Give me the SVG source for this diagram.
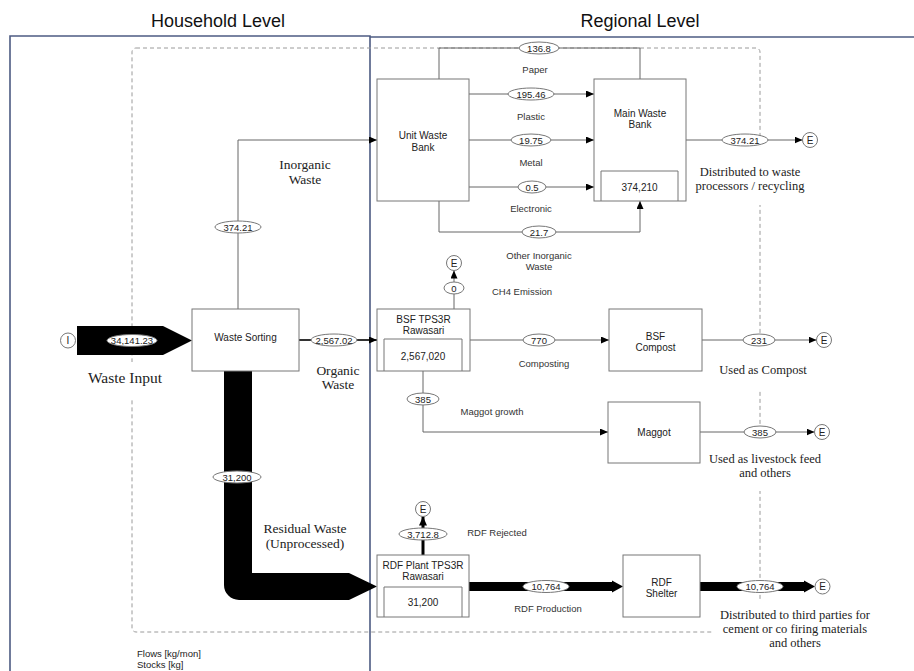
<svg xmlns="http://www.w3.org/2000/svg" width="914" height="671" viewBox="0 0 914 671">
<style>
.frame{fill:none;stroke:#4d5b82;stroke-width:1.6}
.dash{fill:none;stroke:#9a9a9a;stroke-width:1;stroke-dasharray:4 3}
.mask{fill:#fff;stroke:none}
.box{fill:#fff;stroke:#777;stroke-width:1}
.inner{fill:none;stroke:#777;stroke-width:1}
.ln{fill:none;stroke:#666;stroke-width:1}
.el{fill:#fff;stroke:#777;stroke-width:1}
.blk{fill:#000;stroke:none}
.t{font-family:"Liberation Sans",Arial,sans-serif;font-size:10px;fill:#222;text-anchor:middle}
.v{font-family:"Liberation Sans",Arial,sans-serif;font-size:9.5px;fill:#222;text-anchor:middle}
.lbl{font-family:"Liberation Sans",Arial,sans-serif;font-size:9.5px;fill:#333;text-anchor:middle}
.sr{font-family:"Liberation Serif","Times New Roman",serif;font-size:13.5px;fill:#222;text-anchor:middle}
.sr2{font-family:"Liberation Serif","Times New Roman",serif;font-size:12.5px;fill:#222;text-anchor:middle}
.hd{font-family:"Liberation Sans",Arial,sans-serif;font-size:18px;fill:#111;text-anchor:middle}
.leg{font-family:"Liberation Sans",Arial,sans-serif;font-size:9.5px;fill:#222}
</style>
<defs>
<marker id="ar" markerWidth="8" markerHeight="7" refX="8" refY="3.5" orient="auto" markerUnits="userSpaceOnUse"><path d="M0,0 L8,3.5 L0,7 Z" fill="#000"/></marker>
<marker id="arb" markerWidth="9" markerHeight="8" refX="9" refY="4" orient="auto" markerUnits="userSpaceOnUse"><path d="M0,0 L9,4 L0,8 Z" fill="#000"/></marker>
</defs>
<rect width="914" height="671" fill="#fff"/>

<g id="frames">
<text class="hd" x="218" y="27">Household Level</text>
<text class="hd" x="640" y="27">Regional Level</text>
<path class="frame" d="M10,680 V36 H370 V680"/>
<path class="frame" d="M370,37 H914"/>
<rect class="dash" x="132" y="48" width="628" height="584" rx="4"/>
<rect class="mask" x="688" y="147" width="125" height="58"/>
<rect class="mask" x="712" y="345" width="100" height="44"/>
<rect class="mask" x="704" y="439" width="122" height="52"/>
<rect class="mask" x="713" y="599" width="165" height="52"/>
<rect class="mask" x="84" y="362" width="84" height="36"/>
</g>

<g id="connectors">
<path class="ln" d="M238,309 V140 H377" marker-end="url(#ar)"/>
<path class="ln" d="M439,79 V48 H640 V79"/>
<path class="ln" d="M469,94 H594" marker-end="url(#ar)"/>
<path class="ln" d="M469,140 H594" marker-end="url(#ar)"/>
<path class="ln" d="M469,187 H594" marker-end="url(#ar)"/>
<path class="ln" d="M439,201 V232 H640 V201" marker-end="url(#ar)"/>
<path class="ln" d="M686,140 H802.5" marker-end="url(#ar)"/>
<path d="M299,340 H377" fill="none" stroke="#333" stroke-width="2" marker-end="url(#ar)"/>
<path class="ln" d="M454,309 V270.5" marker-end="url(#ar)"/>
<path class="ln" d="M470,340 H609" marker-end="url(#ar)"/>
<path class="ln" d="M702,340 H816.5" marker-end="url(#ar)"/>
<path class="ln" d="M423,371 V432 H608" marker-end="url(#ar)"/>
<path class="ln" d="M700,432 H814.5" marker-end="url(#ar)"/>
<path d="M423,555 V516.5" fill="none" stroke="#000" stroke-width="3" marker-end="url(#arb)"/>
<polygon class="blk" points="77,326 163,326 192,340.5 163,355 77,355"/>
<path class="blk" d="M224,371 L224,585 A15,15 0 0 0 239,600 L349,600 L377,586.5 L349,573 L252,573 L252,371 Z"/>
<polygon class="blk" points="469,582 612,582 612,580.5 623,586.5 612,592.5 612,591 469,591"/>
<polygon class="blk" points="700,582 804,582 804,580.5 815,586.5 804,592.5 804,591 700,591"/>

<ellipse class="el" cx="539" cy="48" rx="20" ry="6"/><text class="v" x="539" y="51.5">136.8</text>
<ellipse class="el" cx="531" cy="94" rx="23" ry="6"/><text class="v" x="531" y="97.5">195.46</text>
<ellipse class="el" cx="531" cy="140" rx="20" ry="6"/><text class="v" x="531" y="143.5">19.75</text>
<ellipse class="el" cx="532" cy="187" rx="14" ry="6"/><text class="v" x="532" y="190.5">0.5</text>
<ellipse class="el" cx="539" cy="232" rx="17" ry="6"/><text class="v" x="539" y="235.5">21.7</text>
<ellipse class="el" cx="745" cy="140" rx="23" ry="6"/><text class="v" x="745" y="143.5">374.21</text>
<ellipse class="el" cx="238" cy="227" rx="23" ry="6"/><text class="v" x="238" y="230.5">374.21</text>
<ellipse class="el" cx="132" cy="340.5" rx="25" ry="6"/><text class="v" x="132" y="344">34,141.23</text>
<ellipse class="el" cx="334" cy="340" rx="23" ry="6"/><text class="v" x="334" y="343.5">2,567.02</text>
<ellipse class="el" cx="454" cy="288" rx="10" ry="6"/><text class="v" x="454" y="291.5">0</text>
<ellipse class="el" cx="539" cy="340" rx="16" ry="6"/><text class="v" x="539" y="343.5">770</text>
<ellipse class="el" cx="759" cy="340" rx="16" ry="6"/><text class="v" x="759" y="343.5">231</text>
<ellipse class="el" cx="423" cy="399" rx="16" ry="6"/><text class="v" x="423" y="402.5">385</text>
<ellipse class="el" cx="760" cy="432" rx="16" ry="6"/><text class="v" x="760" y="435.5">385</text>
<ellipse class="el" cx="237" cy="477" rx="24" ry="6"/><text class="v" x="237" y="480.5">31,200</text>
<ellipse class="el" cx="423" cy="534" rx="24" ry="6"/><text class="v" x="423" y="537.5">3,712.8</text>
<ellipse class="el" cx="546" cy="586.5" rx="23" ry="6"/><text class="v" x="546" y="590">10,764</text>
<ellipse class="el" cx="760" cy="586.5" rx="23" ry="6"/><text class="v" x="760" y="590">10,764</text>

<text class="lbl" x="535" y="73">Paper</text>
<text class="lbl" x="531" y="120">Plastic</text>
<text class="lbl" x="531" y="166">Metal</text>
<text class="lbl" x="531" y="212">Electronic</text>
<text class="lbl" x="539" y="259">Other Inorganic</text>
<text class="lbl" x="539" y="270">Waste</text>
<text class="lbl" x="522" y="295">CH4 Emission</text>
<text class="lbl" x="544" y="367">Composting</text>
<text class="lbl" x="492" y="415">Maggot growth</text>
<text class="lbl" x="497" y="536">RDF Rejected</text>
<text class="lbl" x="548" y="612">RDF Production</text>

<text class="sr" x="305" y="169">Inorganic</text>
<text class="sr" x="305" y="184">Waste</text>
<text class="sr" x="338" y="375">Organic</text>
<text class="sr" x="338" y="389">Waste</text>
<text class="sr" x="125" y="383" style="font-size:15.5px">Waste Input</text>
<text class="sr" x="305" y="533">Residual Waste</text>
<text class="sr" x="305" y="548">(Unprocessed)</text>
<text class="sr2" x="750" y="176">Distributed to waste</text>
<text class="sr2" x="750" y="190">processors / recycling</text>
<text class="sr2" x="763" y="374">Used as Compost</text>
<text class="sr2" x="765" y="463">Used as livestock feed</text>
<text class="sr2" x="765" y="477">and others</text>
<text class="sr2" x="795" y="619">Distributed to third parties for</text>
<text class="sr2" x="795" y="633">cement or co firing materials</text>
<text class="sr2" x="795" y="647">and others</text>
</g>

<g id="input-I"><circle class="el" cx="68" cy="340.5" r="7.5"/><text class="t" x="68" y="344">I</text></g>
<g id="waste-sorting"><rect class="box" x="192" y="309" width="107" height="62"/><text class="t" x="245.5" y="340.5">Waste Sorting</text></g>
<g id="unit-waste-bank"><rect class="box" x="377" y="79" width="92" height="122"/><text class="t" x="423" y="138.5">Unit Waste</text><text class="t" x="423" y="150.5">Bank</text></g>
<g id="main-waste-bank"><rect class="box" x="594" y="79" width="92" height="122"/><text class="t" x="640" y="116.5">Main Waste</text><text class="t" x="640" y="128">Bank</text><path class="inner" d="M601,201 V171 H678 V201"/><text class="t" x="639.5" y="190.5">374,210</text></g>
<g id="bsf-tps3r"><rect class="box" x="377" y="309" width="93" height="62"/><text class="t" x="423.5" y="322.5">BSF TPS3R</text><text class="t" x="423.5" y="333.5">Rawasari</text><path class="inner" d="M384,371 V339 H462 V371"/><text class="t" x="423" y="359.5">2,567,020</text></g>
<g id="bsf-compost"><rect class="box" x="609" y="309" width="93" height="62"/><text class="t" x="655.5" y="339.5">BSF</text><text class="t" x="655.5" y="350.5">Compost</text></g>
<g id="maggot"><rect class="box" x="608" y="402" width="92" height="61"/><text class="t" x="654" y="435.5">Maggot</text></g>
<g id="rdf-plant"><rect class="box" x="377" y="555" width="92" height="62"/><text class="t" x="423" y="568.5">RDF Plant TPS3R</text><text class="t" x="423" y="579.5">Rawasari</text><path class="inner" d="M384,617 V587 H462 V617"/><text class="t" x="423" y="605.5">31,200</text></g>
<g id="rdf-shelter"><rect class="box" x="623" y="555" width="77" height="62"/><text class="t" x="661.5" y="585.5">RDF</text><text class="t" x="661.5" y="596.5">Shelter</text></g>
<g id="e-bank"><circle class="el" cx="810" cy="140" r="7.5"/><text class="t" x="810" y="143.5">E</text></g>
<g id="e-ch4"><circle class="el" cx="454" cy="263" r="7.5"/><text class="t" x="454" y="266.5">E</text></g>
<g id="e-compost"><circle class="el" cx="824" cy="340" r="7.5"/><text class="t" x="824" y="343.5">E</text></g>
<g id="e-maggot"><circle class="el" cx="822" cy="432" r="7.5"/><text class="t" x="822" y="435.5">E</text></g>
<g id="e-rejected"><circle class="el" cx="423" cy="509" r="7.5"/><text class="t" x="423" y="512.5">E</text></g>
<g id="e-rdf"><circle class="el" cx="822.5" cy="586.5" r="7.5"/><text class="t" x="822.5" y="590">E</text></g>

<g id="legend"><text class="leg" x="137" y="656.5">Flows  [kg/mon]</text><text class="leg" x="137" y="667.5">Stocks [kg]</text></g>
</svg>
